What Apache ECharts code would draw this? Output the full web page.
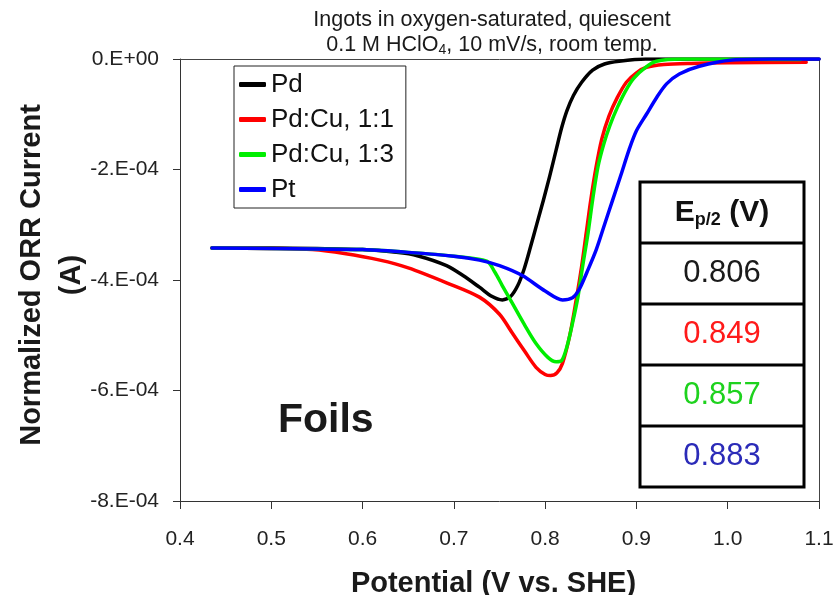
<!DOCTYPE html>
<html>
<head>
<meta charset="utf-8">
<script src="https://cdn.jsdelivr.net/npm/echarts@6/dist/echarts.min.js"></script>
<style>
html,body{margin:0;padding:0;background:#fff;}
#chart{width:839px;height:595px;}
</style>
</head>
<body>
<div id="chart"></div>
<script>
// ---------- DATA ----------
// Potentials in V vs. SHE; currents in units of 1E-4 A
const currentUnit = 1e-4;
const seriesNames = ['Pd', 'Pd:Cu, 1:1', 'Pd:Cu, 1:3', 'Pt'];
const seriesColors = ['#000000', '#ff0000', '#00ee00', '#0000ff'];

const pdX = [0.435,0.5,0.55,0.6,0.637,0.66,0.692,0.71,0.728,0.742,0.753,0.762,0.770,0.777,0.784,0.791,0.798,0.805,0.812,0.818,0.824,0.831,0.84,0.852,0.865,0.881,0.91,1.0,1.1];
const pdY = [-3.42,-3.42,-3.43,-3.45,-3.5,-3.56,-3.74,-3.92,-4.13,-4.3,-4.36,-4.3,-4.1,-3.8,-3.4,-2.98,-2.56,-2.12,-1.65,-1.25,-0.93,-0.66,-0.42,-0.2,-0.09,-0.04,0,0,0];

const pdcu11X = [0.435,0.5,0.545,0.58,0.619,0.65,0.692,0.728,0.75,0.764,0.778,0.79,0.8,0.806,0.813,0.819,0.827,0.834,0.84,0.845,0.85,0.856,0.862,0.87,0.879,0.889,0.9,0.911,0.93,0.96,1.0,1.086];
const pdcu11Y = [-3.42,-3.43,-3.45,-3.52,-3.64,-3.78,-4.05,-4.31,-4.62,-4.96,-5.3,-5.58,-5.71,-5.73,-5.68,-5.51,-5.0,-4.36,-3.75,-3.15,-2.55,-1.94,-1.45,-1.03,-0.7,-0.42,-0.25,-0.15,-0.1,-0.08,-0.07,-0.06];

const pdcu13X = [0.435,0.5,0.55,0.6,0.65,0.7,0.736,0.745,0.753,0.764,0.777,0.79,0.803,0.812,0.818,0.824,0.83,0.836,0.841,0.847,0.852,0.858,0.864,0.871,0.879,0.888,0.897,0.91,0.922,0.95,1.08];
const pdcu13Y = [-3.42,-3.43,-3.44,-3.45,-3.5,-3.57,-3.66,-3.86,-4.1,-4.42,-4.8,-5.15,-5.4,-5.48,-5.46,-5.2,-4.78,-4.3,-3.76,-3.15,-2.55,-1.94,-1.55,-1.2,-0.88,-0.58,-0.35,-0.15,-0.04,0,-0.01];

const ptX = [0.435,0.5,0.55,0.6,0.65,0.7,0.728,0.75,0.775,0.8,0.819,0.83,0.837,0.846,0.856,0.865,0.874,0.883,0.892,0.9,0.911,0.922,0.933,0.947,0.969,1.005,1.05,1.1];
const ptY = [-3.42,-3.43,-3.44,-3.45,-3.5,-3.57,-3.64,-3.74,-3.92,-4.2,-4.36,-4.32,-4.18,-3.85,-3.45,-3.0,-2.55,-2.1,-1.64,-1.3,-1.0,-0.7,-0.45,-0.27,-0.13,-0.02,0,0];

const xTicks = {min: 0.4, max: 1.1, step: 0.1};
const yTicks = {min: -8, max: 0, step: 2}; // in 1E-4 A

const ep2Values = [0.806, 0.849, 0.857, 0.883];
const ep2Colors = ['#1a1a1a', '#ff1a1a', '#1ed21e', '#2b2bb8'];

const titleLines = ['Ingots in oxygen-saturated, quiescent', '0.1 M HClO{sub|4}, 10 mV/s, room temp.'];
const xTitle = 'Potential (V vs. SHE)';
const yTitle1 = 'Normalized ORR Current';
const yTitle2 = '(A)';
const sampleLabel = 'Foils';

// ---------- BUILD ----------
const FONT = '"Liberation Sans", Arial, Helvetica, sans-serif';
const allX = [pdX, pdcu11X, pdcu13X, ptX];
const allY = [pdY, pdcu11Y, pdcu13Y, ptY];

const series = seriesNames.map((name, i) => ({
  name: name,
  type: 'line',
  data: allX[i].map((x, k) => [x, allY[i][k] * currentUnit]),
  showSymbol: false,
  symbol: 'none',
  smooth: 0.3,
  lineStyle: {color: seriesColors[i], width: 3.5, cap: 'round', join: 'round'},
  itemStyle: {color: seriesColors[i]},
  z: 2 + i
}));

// table graphic
const tbl = {left: 640, top: 182, width: 164, headerH: 61, rowH: 61};
const tableChildren = [];
const tblH = tbl.headerH + tbl.rowH * ep2Values.length;
tableChildren.push({type: 'rect', shape: {x: tbl.left, y: tbl.top, width: tbl.width, height: tblH},
  style: {fill: '#fff', stroke: '#000', lineWidth: 3}});
for (let i = 0; i < ep2Values.length; i++) {
  const yLine = tbl.top + tbl.headerH + i * tbl.rowH;
  tableChildren.push({type: 'line', shape: {x1: tbl.left, y1: yLine, x2: tbl.left + tbl.width, y2: yLine},
    style: {stroke: '#000', lineWidth: 3}});
  tableChildren.push({type: 'text', x: tbl.left + tbl.width / 2, y: yLine + tbl.rowH / 2,
    style: {text: ep2Values[i].toFixed(3), fill: ep2Colors[i], font: '31px ' + FONT,
      textAlign: 'center', textVerticalAlign: 'middle'}});
}
tableChildren.push({type: 'text', x: tbl.left + tbl.width / 2, y: tbl.top + tbl.headerH / 2,
  style: {text: 'E{sub|p/2} (V)', fill: '#111', font: 'bold 30px ' + FONT,
    textAlign: 'center', textVerticalAlign: 'middle',
    rich: {sub: {font: 'bold 18px ' + FONT, fill: '#111', padding: [16, 0, 0, 0]}}}});

const option = {
  animation: false,
  backgroundColor: '#fff',
  grid: {left: 180, right: 20, top: 59, bottom: 94, containLabel: false, outerBoundsMode: 'none'},
  legend: {
    data: seriesNames,
    orient: 'vertical',
    left: 234, top: 66,
    padding: [5, 12, 5, 5],
    itemGap: 8,
    itemWidth: 27, itemHeight: 5,
    icon: 'roundRect',
    borderColor: '#222', borderWidth: 1,
    backgroundColor: '#fff',
    textStyle: {fontFamily: FONT, fontSize: 26, color: '#111', lineHeight: 27, padding: [0,0,0,0]}
  },
  xAxis: [{
    type: 'value', min: xTicks.min, max: xTicks.max, interval: xTicks.step,
    name: xTitle, nameLocation: 'middle', nameGap: 68,
    nameTextStyle: {fontFamily: FONT, fontSize: 29, fontWeight: 'bold', color: '#1a1a1a', padding: [0, 12, 0, 0]},
    axisLine: {show: true, onZero: false, lineStyle: {color: '#333', width: 1}},
    axisTick: {show: true, inside: false, length: 8, lineStyle: {color: '#333'}},
    axisLabel: {margin: 28, fontFamily: FONT, fontSize: 21, color: '#222',
      formatter: v => v.toFixed(1)},
    splitLine: {show: false}
  }, {
    type: 'value', position: 'top', min: xTicks.min, max: xTicks.max,
    axisLine: {show: true, onZero: false, lineStyle: {color: '#444', width: 1}},
    axisTick: {show: false}, axisLabel: {show: false}, splitLine: {show: false}
  }],
  yAxis: [{
    type: 'value', min: yTicks.min * currentUnit, max: yTicks.max * currentUnit, interval: yTicks.step * currentUnit,
    axisLine: {show: true, onZero: false, lineStyle: {color: '#333', width: 1}},
    axisTick: {show: true, inside: false, length: 7, lineStyle: {color: '#333'}},
    axisLabel: {margin: 21, fontFamily: FONT, fontSize: 21, color: '#222',
      formatter: v => { const n = Math.round(v / currentUnit); return n === 0 ? '0.E+00' : n + '.E-04'; }},
    splitLine: {show: false}
  }, {
    type: 'value', position: 'right', min: yTicks.min * currentUnit, max: yTicks.max * currentUnit,
    axisLine: {show: true, onZero: false, lineStyle: {color: '#444', width: 1}},
    axisTick: {show: false}, axisLabel: {show: false}, splitLine: {show: false}
  }],
  series: series,
  graphic: [
    {type: 'text', x: 492, y: 20, style: {text: titleLines[0], font: '21.5px ' + FONT, fill: '#1a1a1a',
      textAlign: 'center', textVerticalAlign: 'middle'}},
    {type: 'text', x: 492, y: 45, style: {text: titleLines[1], font: '21.5px ' + FONT, fill: '#1a1a1a',
      textAlign: 'center', textVerticalAlign: 'middle',
      rich: {sub: {font: '14px ' + FONT, fill: '#1a1a1a', padding: [10, 0, 0, 0]}}}},
    {type: 'text', x: 32, y: 275, rotation: Math.PI / 2, style: {text: yTitle1, font: 'bold 29px ' + FONT,
      fill: '#1a1a1a', textAlign: 'center', textVerticalAlign: 'middle'}},
    {type: 'text', x: 72, y: 275, rotation: Math.PI / 2, style: {text: yTitle2, font: 'bold 29px ' + FONT,
      fill: '#1a1a1a', textAlign: 'center', textVerticalAlign: 'middle'}},
    {type: 'text', x: 278, y: 421, style: {text: sampleLabel, font: 'bold 41px ' + FONT, fill: '#1a1a1a',
      textAlign: 'left', textVerticalAlign: 'middle'}},
    {type: 'group', z: 100, children: tableChildren}
  ]
};

const chart = echarts.init(document.getElementById('chart'), null, {renderer: 'canvas'});
chart.setOption(option);
</script>
</body>
</html>
